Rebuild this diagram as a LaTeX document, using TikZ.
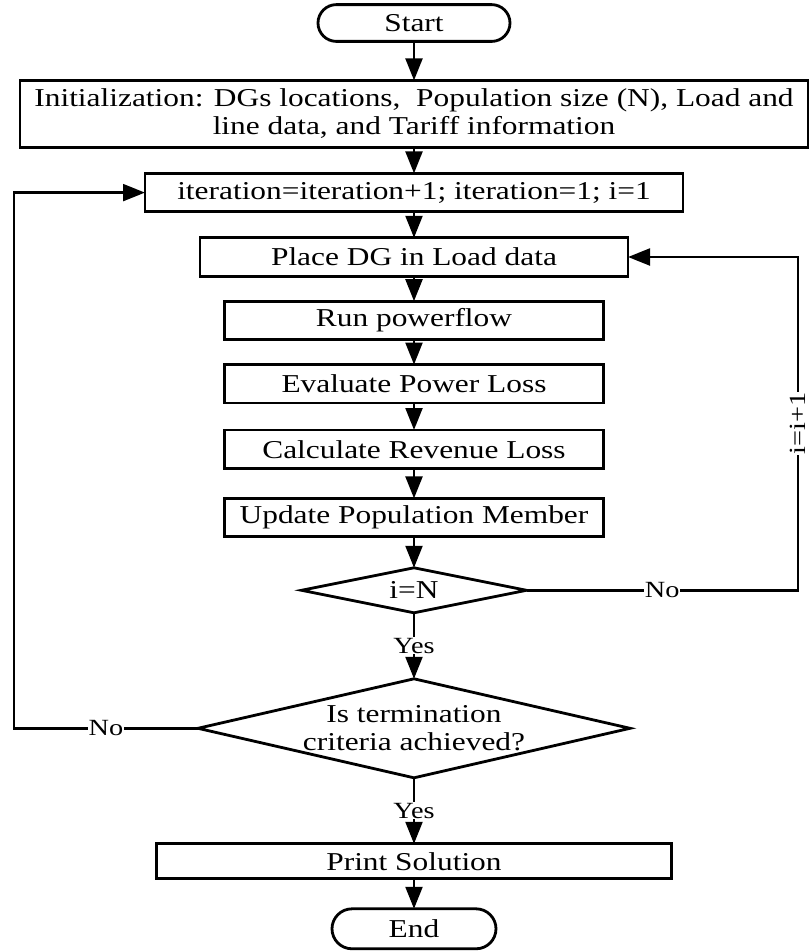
\documentclass[tikz,border=0pt]{standalone}
\usepackage{fontspec}
\setmainfont{Liberation Serif}[FakeStretch=1.22]
\usepackage{tikz}
\usetikzlibrary{arrows.meta,positioning,shapes.geometric}
\newcommand{\boxfont}{\fontsize{18.3pt}{19.9pt}\selectfont}
\newcommand{\lblfont}{\fontsize{16.5pt}{18pt}\selectfont}

\begin{document}
\begin{tikzpicture}[node distance=0.65cm]
        % Define styles
        \tikzset{
            process/.style={rectangle, draw, line width=2pt, outer sep=0pt, minimum height=0.96cm, inner sep=2pt, align=center, font=\boxfont},
            terminal/.style={rectangle, draw, line width=2pt, outer sep=0pt, rounded corners=0.46cm, minimum height=0.92cm, font=\boxfont},
            decision/.style={diamond, draw, line width=2pt, outer sep=0pt, aspect=4.4, inner sep=-4pt, align=center, font=\boxfont},
            arrow/.style={line width=2pt,-{Triangle[length=0.55cm,width=0.42cm]}},
            lbl/.style={fill=white, inner sep=0.5pt, font=\lblfont}
        }
        \useasboundingbox (0,0) rectangle (20.225,-23.775);

        % Create nodes
        \node [terminal, minimum width=4.8cm] (start) at (10.35,-0.575) {Start};
        \node [process, below=0.975cm of start, minimum width=19.7cm, minimum height=1.675cm] (init) {Initialization: DGs locations,~ Population size (N), Load and\\line data, and Tariff information};
        \node [process, below=of init, minimum width=13.45cm] (iter) {iteration=iteration+1; iteration=1; i=1};
        \node [process, below=of iter, minimum width=10.7cm] (place) {Place DG in Load data};
        \node [process, below=0.625cm of place, minimum width=9.475cm] (run) {Run powerflow};
        \node [process, below=0.625cm of run, minimum width=9.475cm] (eval) {Evaluate Power Loss};
        \node [process, below=0.675cm of eval, minimum width=9.475cm] (calc) {Calculate Revenue Loss};
        \node [process, below=0.75cm of calc, minimum width=9.475cm] (update) {Update Population Member};
        \node [decision, below=0.775cm of update, minimum width=5.625cm, minimum height=1.125cm] (checkN) {i=N};
        \node [decision, below=1.65cm of checkN, minimum width=10.8cm, minimum height=2.475cm] (checkend) {Is termination\\criteria achieved?};
        \node [process, below=1.65cm of checkend, minimum width=12.875cm, minimum height=0.875cm] (print) {Print Solution};
        \node [terminal, below=0.75cm of print, minimum width=4.1cm, minimum height=1cm, rounded corners=0.5cm] (end) {End};

        % Loop sides
        \coordinate (rside) at (19.95,0);
        \coordinate (lside) at (0.35,0);

        % Create arrows
        \draw [arrow] (start) -- (init);
        \draw [arrow] (init) -- (iter);
        \draw [arrow] (iter) -- (place);
        \draw [arrow] (place) -- (run);
        \draw [arrow] (run) -- (eval);
        \draw [arrow] (eval) -- (calc);
        \draw [arrow] (calc) -- (update);
        \draw [arrow] (update) -- (checkN);
        \draw [arrow] (checkN) -- node[lbl] {Yes} (checkend);
        \draw [arrow] (checkend) -- node[lbl] {Yes} (print);
        \draw [arrow] (print) -- (end);

        % Add loops
        \draw [arrow] (checkN.east) -- node[lbl] {No} (checkN.east -| rside) -- node[lbl, rotate=90] {i=i+1} (place.east -| rside) -- (place.east);
        \draw [arrow] (checkend.west) -- node[lbl] {No} (checkend.west -| lside) -- (iter.west -| lside) -- (iter.west);
\end{tikzpicture}
\end{document}
